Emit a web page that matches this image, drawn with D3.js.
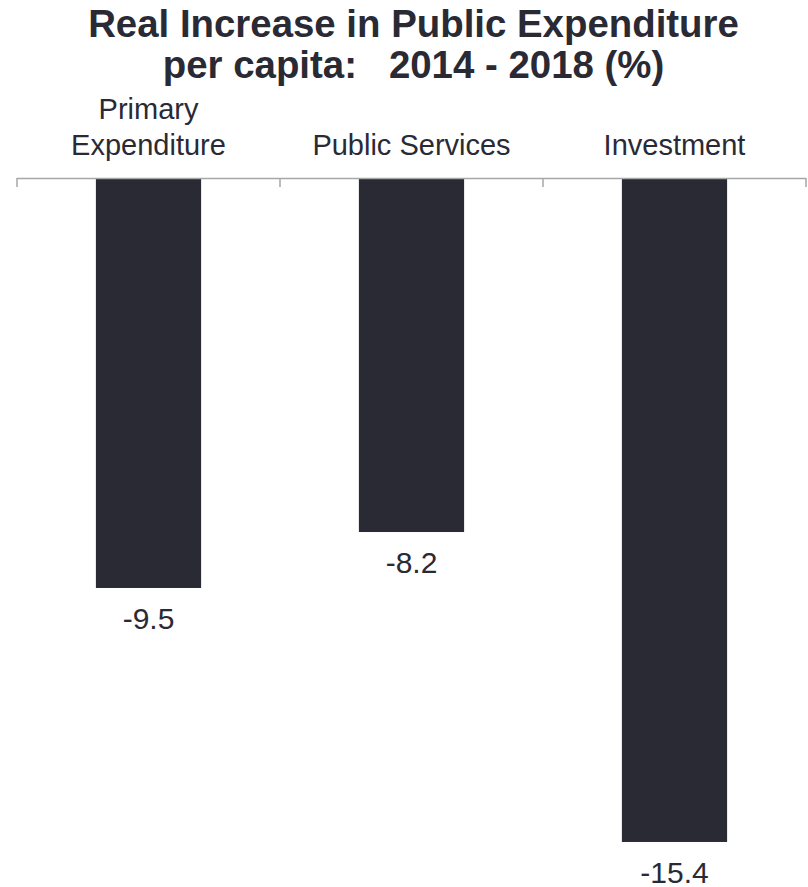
<!DOCTYPE html>
<html>
<head>
<meta charset="utf-8">
<script src="https://cdn.jsdelivr.net/npm/d3@7"></script>
<style>
  html, body { margin: 0; padding: 0; background: #fff; }
  svg text { font-family: "Liberation Sans", Arial, sans-serif; }
</style>
</head>
<body>
<svg id="chart" width="808" height="887"></svg>
<script>
const categories = [["Primary", "Expenditure"], ["Public Services"], ["Investment"]];
const values = [-9.5, -8.2, -15.4];
const titleLines = ["Real Increase in Public Expenditure", "per capita:   2014 - 2018 (%)"];

const svg = d3.select("#chart");
const left = 17, right = 806, axisY = 179;
const color = "#2a2a35";

const keys = categories.map((c, i) => i);
const x = d3.scaleBand().domain(keys).range([left, right]).paddingInner(0.6).paddingOuter(0.3);
const y = d3.scaleLinear().domain([0, -16]).range([axisY, axisY + 16 * 43.05]);

// title
svg.append("text")
  .attr("x", (left + right) / 2 + 2)
  .attr("text-anchor", "middle")
  .attr("font-weight", "bold")
  .attr("font-size", 38.4)
  .attr("fill", color)
  .style("white-space", "pre")
  .selectAll("tspan").data(titleLines).join("tspan")
  .attr("x", (left + right) / 2 + 2)
  .attr("y", (d, i) => 37 + i * 41)
  .text(d => d);

// bars
svg.selectAll("rect.bar").data(values).join("rect")
  .attr("class", "bar")
  .attr("x", (d, i) => x(i))
  .attr("y", d => y(0))
  .attr("width", x.bandwidth())
  .attr("height", d => y(d) - y(0))
  .attr("fill", color);

// axis line and ticks at band boundaries
const step = x.step();
const tickXs = keys.map(i => x(i) - step * 0.3).concat([x(keys.length - 1) + x.bandwidth() + step * 0.3]);
svg.append("line")
  .attr("x1", left).attr("x2", right)
  .attr("y1", axisY - 0.5).attr("y2", axisY - 0.5)
  .attr("stroke", "#a6a6a6").attr("stroke-width", 1.5);
svg.selectAll("line.tick").data(tickXs).join("line")
  .attr("class", "tick")
  .attr("x1", d => d).attr("x2", d => d)
  .attr("y1", axisY - 1).attr("y2", axisY + 8)
  .attr("stroke", "#a6a6a6").attr("stroke-width", 1.5);

// category labels
const catG = svg.selectAll("text.cat").data(categories).join("text")
  .attr("class", "cat")
  .attr("text-anchor", "middle")
  .attr("font-size", 29)
  .attr("fill", color);
catG.selectAll("tspan").data((d, i) => d.map((t, j) => ({t, j, n: d.length, i}))).join("tspan")
  .attr("x", d => x(d.i) + x.bandwidth() / 2)
  .attr("y", d => 155 - (d.n - 1 - d.j) * 36)
  .text(d => d.t);

// value labels
svg.selectAll("text.val").data(values).join("text")
  .attr("class", "val")
  .attr("text-anchor", "middle")
  .attr("font-size", 30)
  .attr("fill", color)
  .attr("x", (d, i) => x(i) + x.bandwidth() / 2)
  .attr("y", d => y(d) + 41)
  .text(d => d.toFixed(1));
</script>
</body>
</html>
